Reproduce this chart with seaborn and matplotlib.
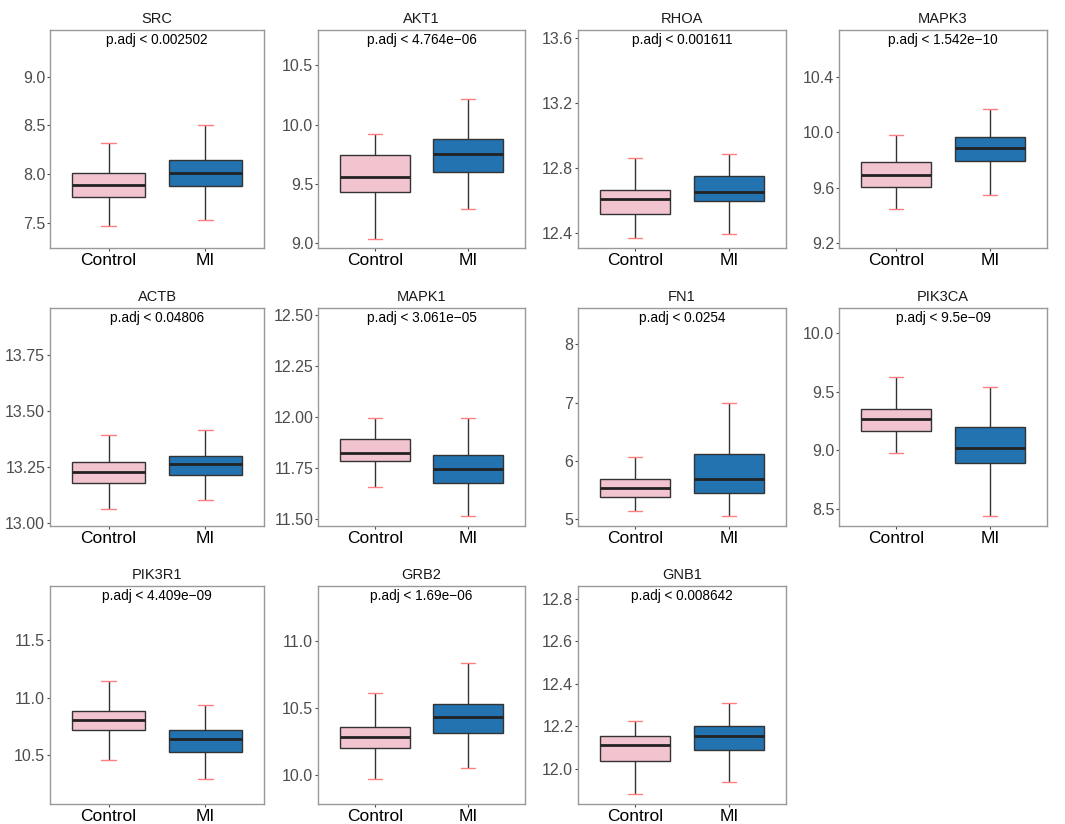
import numpy as np
import pandas as pd
import matplotlib
matplotlib.use("Agg")
import matplotlib.pyplot as plt
import seaborn as sns

sns.set_theme(style="white")
plt.rcParams['font.family'] = ['Liberation Sans', 'DejaVu Sans']

groups = ["Control", "MI"]
genes = ["SRC", "AKT1", "RHOA", "MAPK3", "ACTB", "MAPK1", "FN1", "PIK3CA",
         "PIK3R1", "GRB2", "GNB1"]
pvals = ["0.002502", "4.764e\u221206", "0.001611", "1.542e\u221210", "0.04806",
         "3.061e\u221205", "0.0254", "9.5e\u221209", "4.409e\u221209", "1.69e\u221206",
         "0.008642"]

# five-number summaries: min, q1, median, q3, max
control_stats = {
    "SRC":    [7.467, 7.77, 7.89, 8.014, 8.318],
    "AKT1":   [9.034, 9.428, 9.560, 9.738, 9.921],
    "RHOA":   [12.365, 12.517, 12.610, 12.661, 12.859],
    "MAPK3":  [9.442, 9.605, 9.688, 9.782, 9.978],
    "ACTB":   [13.063, 13.179, 13.225, 13.272, 13.391],
    "MAPK1":  [11.657, 11.783, 11.824, 11.89, 11.997],
    "FN1":    [5.142, 5.38, 5.533, 5.693, 6.063],
    "PIK3CA": [8.975, 9.161, 9.266, 9.356, 9.627],
    "PIK3R1": [10.46, 10.716, 10.807, 10.888, 11.147],
    "GRB2":   [9.97, 10.2, 10.287, 10.361, 10.609],
    "GNB1":   [11.882, 12.037, 12.112, 12.152, 12.225],
}
mi_stats = {
    "SRC":    [7.53, 7.877, 8.01, 8.147, 8.50],
    "AKT1":   [9.287, 9.602, 9.749, 9.879, 10.217],
    "RHOA":   [12.392, 12.593, 12.648, 12.749, 12.886],
    "MAPK3":  [9.543, 9.794, 9.885, 9.966, 10.168],
    "ACTB":   [13.100, 13.214, 13.260, 13.298, 13.412],
    "MAPK1":  [11.515, 11.676, 11.745, 11.811, 11.997],
    "FN1":    [5.05, 5.459, 5.698, 6.12, 7.0],
    "PIK3CA": [8.442, 8.896, 9.017, 9.203, 9.539],
    "PIK3R1": [10.293, 10.532, 10.641, 10.716, 10.94],
    "GRB2":   [10.05, 10.314, 10.431, 10.527, 10.834],
    "GNB1":   [11.936, 12.088, 12.152, 12.203, 12.31],
}
ylims = {
    "SRC": (7.242, 9.479), "AKT1": (8.955, 10.80), "RHOA": (12.306, 13.647),
    "MAPK3": (9.164, 10.736), "ACTB": (12.985, 13.958), "MAPK1": (11.464, 12.536),
    "FN1": (4.886, 8.62), "PIK3CA": (8.359, 10.209), "PIK3R1": (10.080, 11.966),
    "GRB2": (9.785, 11.408), "GNB1": (11.834, 12.859),
}
yticks = {
    "SRC": [7.5, 8.0, 8.5, 9.0], "AKT1": [9.0, 9.5, 10.0, 10.5],
    "RHOA": [12.4, 12.8, 13.2, 13.6], "MAPK3": [9.2, 9.6, 10.0, 10.4],
    "ACTB": [13.0, 13.25, 13.5, 13.75], "MAPK1": [11.5, 11.75, 12.0, 12.25, 12.5],
    "FN1": [5, 6, 7, 8], "PIK3CA": [8.5, 9.0, 9.5, 10.0],
    "PIK3R1": [10.5, 11.0, 11.5], "GRB2": [10.0, 10.5, 11.0],
    "GNB1": [12.0, 12.2, 12.4, 12.6, 12.8],
}
tickfmt = {"ACTB": "{:.2f}", "MAPK1": "{:.2f}", "FN1": "{:.0f}"}

palette = {"Control": "#F2C4D0", "MI": "#2273AF"}

W, H = 1065, 824
fig = plt.figure(figsize=(W / 100, H / 100), dpi=100)
col_left = [50, 318, 578, 839]
col_w = [214, 207, 208, 208]
row_top = [30, 308, 586]
ph = 218

for i, gene in enumerate(genes):
    r, c = divmod(i, 4)
    ax = fig.add_axes([col_left[c] / W, (H - row_top[r] - ph) / H, col_w[c] / W, ph / H])
    df = pd.DataFrame({
        "group": ["Control"] * 5 + ["MI"] * 5,
        "value": control_stats[gene] + mi_stats[gene],
    })
    sns.boxplot(data=df, x="group", y="value", hue="group", order=groups,
                hue_order=groups, palette=palette, saturation=1, whis=(0, 100),
                width=0.75, linecolor="#333333", linewidth=1.0, legend=False,
                ax=ax, capwidths=0.15,
                medianprops=dict(color="#222222", linewidth=2.0),
                capprops=dict(color="#FF7F7F", linewidth=1.0),
                whiskerprops=dict(color="#333333", linewidth=1.0),
                showfliers=False)
    ax.set_xlim(-0.606, 1.606)
    ax.set_ylim(*ylims[gene])
    ax.set_yticks(yticks[gene])
    fmt = tickfmt.get(gene, "{:.1f}")
    ax.set_yticklabels([fmt.format(v) for v in yticks[gene]])
    ax.set_xlabel("")
    ax.set_ylabel("")
    ax.set_title(gene, fontsize=10.5, color="#1a1a1a", pad=5)
    ax.text(0.5, 0.955, "p.adj < " + pvals[i], transform=ax.transAxes,
            ha="center", va="center", fontsize=9.8, color="black")
    for s in ax.spines.values():
        s.set_color("#999999")
        s.set_linewidth(1.0)
    ax.tick_params(axis="y", labelsize=11.5, labelcolor="#4D4D4D", length=2.5,
                   width=0.8, color="#4D4D4D", left=True, pad=1)
    ax.tick_params(axis="x", labelsize=12.5, labelcolor="black", length=2.5,
                   width=0.8, color="#4D4D4D", bottom=True, pad=1)
    ax.grid(False)

fig.savefig("out.png", dpi=100, facecolor="white")
